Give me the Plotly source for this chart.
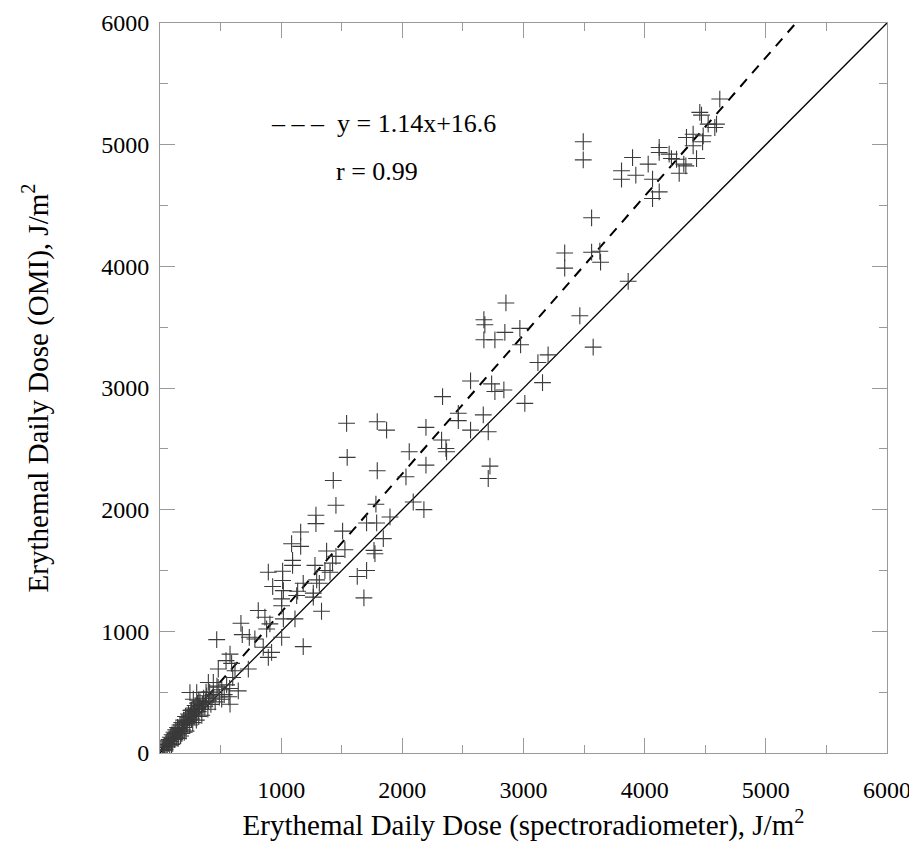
import plotly.graph_objects as go

# Spectroradiometer (x) vs OMI (y) erythemal daily dose, J/m2
spectro = [
    # dense low cluster
    30, 40, 50, 55, 60, 70, 75, 80, 85, 90, 100, 100, 105, 110, 115, 120, 125, 130, 135, 140,
    145, 150, 155, 160, 165, 170, 175, 180, 185, 190, 195, 200, 205, 210, 215, 220, 225, 230, 235, 240,
    245, 250, 255, 260, 265, 270, 275, 280, 285, 290, 295, 300, 305, 310, 315, 320, 325, 330, 340, 345,
    350, 360, 370, 375, 385, 395, 400, 410, 420, 440, 455, 470, 490, 510, 530, 550, 575, 600,
    20, 35, 65, 95, 150, 180, 200, 240, 260, 280, 320, 360, 380, 430, 480,
    # low-mid
    247, 303, 275, 399, 440, 481, 468, 509, 569, 578, 646, 619, 729, 578, 545, 591, 668, 679, 737,
    1452, 1782, 1287, 1287, 1705, 1788, 1898, 1161, 1507, 1086, 1161, 1843, 1375, 1526, 1452, 1766, 1774,
    1094, 1094, 1424, 1279, 1361, 894, 1012, 1403, 1705, 1628, 1012, 1293, 1182, 1315, 930, 1018, 1136,
    1265, 1265, 1004, 1128, 1683, 1004, 811, 1333, 866, 1018, 1114, 907, 880, 1004, 783, 852, 1182, 921, 894,
    # mid
    2563, 2737, 2764, 2838, 3011, 2332, 2462, 2462, 2668, 1793, 1870, 2195, 2563, 2709, 2324, 2360, 2365,
    2057, 2195, 1793, 2723, 2709, 2030, 2090, 2178, 1540, 1545, 1430,
    2855, 2673, 2681, 2673, 2764, 2846, 2970, 2976, 3465, 3575, 3203, 3119, 3157,
    # high
    4620, 4455, 4469, 4524, 4593, 4579, 4345, 4400, 4483, 4478, 4400, 4428, 4120, 4120, 4202, 4221, 4263,
    4323, 4340, 4285, 3900, 4029, 3809, 3809, 3927, 4065, 4120, 4065, 3493, 3493, 3562, 3562, 3630, 3636,
    3864, 3340, 3340,
]
omi = [
    45, 30, 70, 90, 50, 80, 110, 60, 130, 95, 120, 150, 80, 140, 170, 110, 160, 190, 130, 175,
    210, 150, 200, 180, 230, 140, 210, 250, 190, 230, 270, 210, 250, 300, 180, 260, 240, 290, 320, 270,
    230, 310, 350, 280, 330, 250, 360, 300, 340, 390, 320, 270, 360, 410, 340, 300, 380, 420, 360, 310,
    400, 450, 380, 420, 470, 360, 430, 500, 400, 480, 420, 550, 460, 520, 480, 560, 530, 620,
    20, 60, 100, 70, 120, 160, 170, 300, 350, 370, 430, 400, 500, 450, 540,
    497, 497, 442, 580, 580, 690, 932, 442, 462, 401, 511, 676, 690, 813, 759, 737, 1066, 973, 951,
    2036, 2045, 1954, 1885, 1891, 1891, 1940, 1816, 1824, 1720, 1698, 1762, 1660, 1671, 1616, 1665, 1638,
    1583, 1542, 1561, 1542, 1500, 1486, 1494, 1486, 1500, 1451, 1418, 1423, 1395, 1395, 1368, 1335, 1330,
    1314, 1281, 1267, 1294, 1275, 1210, 1171, 1165, 1116, 1102, 1102, 1061, 1019, 951, 937, 869, 874, 827, 786,
    3058, 3034, 2971, 2984, 2874, 2929, 2792, 2732, 2779, 2723, 2654, 2676, 2654, 2640, 2572, 2503, 2476,
    2476, 2366, 2320, 2358, 2256, 2270, 2063, 2000, 2710, 2430, 2240,
    3699, 3561, 3520, 3396, 3396, 3457, 3490, 3355, 3594, 3336, 3272, 3209, 3044,
    5375, 5265, 5243, 5169, 5169, 5141, 5059, 5086, 5073, 5024, 4991, 4886, 4977, 4936, 4922, 4886, 4880,
    4840, 4826, 4765, 4894, 4840, 4785, 4716, 4749, 4716, 4612, 4557, 5024, 4875, 4399, 4116, 4124, 4034,
    3877, 4110, 3985,
]

fit_slope = 1.14
fit_intercept = 16.6
fit_r = 0.99
axis_max = 6000
x_tickvals = [1000, 2000, 3000, 4000, 5000, 6000]
y_tickvals = [0, 1000, 2000, 3000, 4000, 5000, 6000]

font_family = "Liberation Serif"

fig = go.Figure()

# 1:1 line
fig.add_trace(go.Scatter(x=[0, axis_max], y=[0, axis_max], mode="lines",
                         line=dict(color="black", width=1.3), hoverinfo="skip"))
# regression line
x_end = (axis_max - fit_intercept) / fit_slope
fig.add_trace(go.Scatter(x=[0, x_end], y=[fit_intercept, fit_slope * x_end + fit_intercept],
                         mode="lines", line=dict(color="black", width=2, dash="10px,8px"),
                         hoverinfo="skip"))
# data points
fig.add_trace(go.Scatter(x=spectro, y=omi, mode="markers",
                         marker=dict(symbol="cross-thin", size=12,
                                     line=dict(color="#3a3a3a", width=1.1))))

axis_common = dict(
    range=[0, axis_max], showgrid=False, zeroline=False, automargin=False,
    showline=True, linecolor="#9a9a9a", linewidth=1, mirror="ticks",
    ticks="inside", ticklen=15, tickcolor="#9a9a9a", tickwidth=1,
    ticklabeloverflow="allow",
    tickfont=dict(family=font_family, size=24, color="black"),
    minor=dict(dtick=500, ticks="inside", ticklen=8, tickcolor="#9a9a9a", tickwidth=1),
)

# the page adds an 8px body margin, so the figure is sized to fit the window
fig.update_layout(
    width=909, height=834,
    margin=dict(l=152, r=30, t=15, b=89),
    paper_bgcolor="white", plot_bgcolor="white",
    showlegend=False,
    xaxis=dict(axis_common, tickmode="array", tickvals=x_tickvals,
               ticktext=[str(v) for v in x_tickvals], ticklabelstandoff=15,
               title=dict(text="Erythemal Daily Dose (spectroradiometer), J/m<sup>2</sup>",
                          font=dict(family=font_family, size=29, color="black"), standoff=36)),
    yaxis=dict(axis_common, tickmode="array", tickvals=y_tickvals,
               ticktext=[str(v) for v in y_tickvals], ticklabelstandoff=5,
               title=dict(text="Erythemal Daily Dose (OMI), J/m<sup>2</sup>",
                          font=dict(family=font_family, size=29, color="black"), standoff=44)),
    annotations=[
        dict(xref="paper", yref="paper", x=0.15, y=0.862, xanchor="left", yanchor="middle",
             showarrow=False,
             text="\u2013 \u2013 \u2013\u00a0\u00a0y = {:.2f}x+{:.1f}".format(fit_slope, fit_intercept),
             font=dict(family=font_family, size=26, color="black")),
        dict(xref="paper", yref="paper", x=0.24, y=0.797, xanchor="left", yanchor="middle",
             showarrow=False, text="r = {:.2f}".format(fit_r),
             font=dict(family=font_family, size=26, color="black")),
    ],
)

fig.write_html("out.html")
